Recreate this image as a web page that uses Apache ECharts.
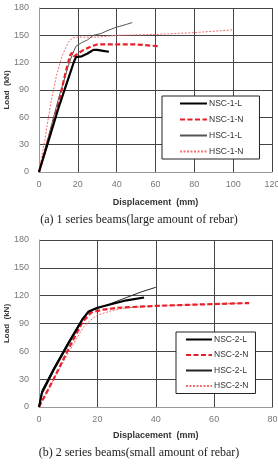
<!DOCTYPE html>
<html>
<head>
<meta charset="utf-8">
<script src="https://cdn.jsdelivr.net/npm/echarts@6/dist/echarts.min.js"></script>
<style>
	html, body { margin: 0; padding: 0; background: #fff; }
	#main { width: 278px; height: 470px; }
</style>
</head>
<body>
<div id="main"></div>
<script>
// (a) 1 series beams - [displacement mm, load kN]
var nsc1L = [[0,0],[2,14],[5,35],[10,70],[15,102],[18,121],[19,126],[22,127],[25,130],[28,134],[30,134],[33,133],[36,132]];
var nsc1N = [[0,0],[2,15],[5,37],[10,75],[14,112],[16,128],[17,131],[18,127],[20,130],[23,134],[27,138],[30,140],[40,140],[50,140],[62,138]];
var hsc1L = [[0,0],[2,16],[5,40],[10,80],[15,116],[17,128],[19,138],[22,142],[25,145],[28,150],[32,152],[35,155],[40,159],[45,162],[48,164]];
var hsc1N = [[0,0],[3,35],[6,75],[9,106],[12,128],[15,142],[17,147],[20,148],[30,148],[40,150],[60,151],[80,153],[100,156]];

// (b) 2 series beams
var nsc2L = [[0,0],[1,15],[5,40],[10,68],[15,95],[17,103],[20,107],[25,111],[30,115],[36,118]];
var nsc2N = [[0,0],[5,30],[10,62],[15,92],[18,102],[22,105],[27,107],[40,109],[60,111],[72,112]];
var hsc2L = [[0,0],[1,18],[5,42],[10,70],[15,96],[18,104],[20,106],[25,112],[30,118],[35,124],[40,129]];
var hsc2N = [[0,0],[5,30],[10,58],[15,85],[17,92],[20,99],[25,104],[30,107],[40,109],[60,111],[70,112]];

var captions = ['(a) 1 series beams(large amount of rebar)', '(b) 2 series beams(small amount of rebar)'];
var labelFont = 'Liberation Sans';

function xAxis(idx, max, gap) {
	return {
		gridIndex : idx, type : 'value', min : 0, max : max, interval : 20,
		name : 'Displacement  (mm)', nameLocation : 'middle', nameGap : gap, nameMoveOverlap : false,
		nameTextStyle : { fontFamily : labelFont, fontSize : 9, fontWeight : 'bold', color : '#333' },
		axisLine : { lineStyle : { color : '#999' } },
		axisTick : { show : false },
		axisLabel : { fontFamily : labelFont, fontSize : 9, color : '#777', margin : 8 },
		splitLine : { lineStyle : { color : '#444', width : 1 } }
	};
}

function yAxis(idx) {
	return {
		gridIndex : idx, type : 'value', min : 0, max : 180, interval : 30,
		name : 'Load  (kN)', nameLocation : 'middle', nameGap : 28, nameRotate : 90, nameMoveOverlap : false,
		nameTextStyle : { fontFamily : labelFont, fontSize : 8, fontWeight : 'bold', color : '#333' },
		axisLine : { show : true, lineStyle : { color : '#999' } },
		axisTick : { show : false },
		axisLabel : { fontFamily : labelFont, fontSize : 9, color : '#777', margin : 10 },
		splitLine : { lineStyle : { color : '#444', width : 1 } }
	};
}

function line(name, idx, data, color, width, type) {
	return {
		name : name, type : 'line', xAxisIndex : idx, yAxisIndex : idx,
		data : data, showSymbol : false, symbol : 'none', smooth : false,
		lineStyle : { color : color, width : width, type : type },
		itemStyle : { color : color }
	};
}

function legend(names, left, top, iconW, gap, pad) {
	return {
		data : names, orient : 'vertical', left : left, top : top,
		itemWidth : iconW, itemHeight : 9, itemGap : gap, padding : pad,
		borderColor : '#222', borderWidth : 1, backgroundColor : '#fff',
		itemStyle : { opacity : 0 },
		textStyle : { fontFamily : labelFont, fontSize : 8.5, color : '#333', padding : [0, 0, 0, -3] }
	};
}

var option = {
	animation : false,
	title : [ {
		text : captions[0], left : 'center', top : 209,
		textStyle : { fontFamily : 'Liberation Serif', fontSize : 12, fontWeight : 'normal', color : '#222' }
	}, {
		text : captions[1], left : 'center', top : 442,
		textStyle : { fontFamily : 'Liberation Serif', fontSize : 12, fontWeight : 'normal', color : '#222' }
	} ],
	grid : [
		{ left : 39, top : 8, width : 233, height : 164, outerBoundsMode : 'none', containLabel : false },
		{ left : 39, top : 240, width : 233.5, height : 167, outerBoundsMode : 'none', containLabel : false }
	],
	xAxis : [ xAxis(0, 120, 26), xAxis(1, 80, 24) ],
	yAxis : [ yAxis(0), yAxis(1) ],
	legend : [
		legend(['NSC-1-L', 'NSC-1-N', 'HSC-1-L', 'HSC-1-N'], 162, 96, 27, 7, [3, 16, 3, 17]),
		legend(['NSC-2-L', 'NSC-2-N', 'HSC-2-L', 'HSC-2-N'], 176, 332, 26, 6.5, [3, 7, 3, 9])
	],
	series : [
		line('HSC-1-N', 0, hsc1N, '#f26d6d', 1, [2, 1.5]),
		line('HSC-1-L', 0, hsc1L, '#555', 1, 'solid'),
		line('NSC-1-N', 0, nsc1N, '#e8202a', 2.2, [5, 2.5]),
		line('NSC-1-L', 0, nsc1L, '#000', 2.2, 'solid'),
		line('HSC-2-N', 1, hsc2N, '#f26d6d', 1, [2, 1.5]),
		line('HSC-2-L', 1, hsc2L, '#222', 1, 'solid'),
		line('NSC-2-N', 1, nsc2N, '#e8202a', 2.2, [5, 2.5]),
		line('NSC-2-L', 1, nsc2L, '#000', 2.2, 'solid')
	]
};

var myChart = echarts.init(document.getElementById('main'));
myChart.setOption(option);
</script>
</body>
</html>
